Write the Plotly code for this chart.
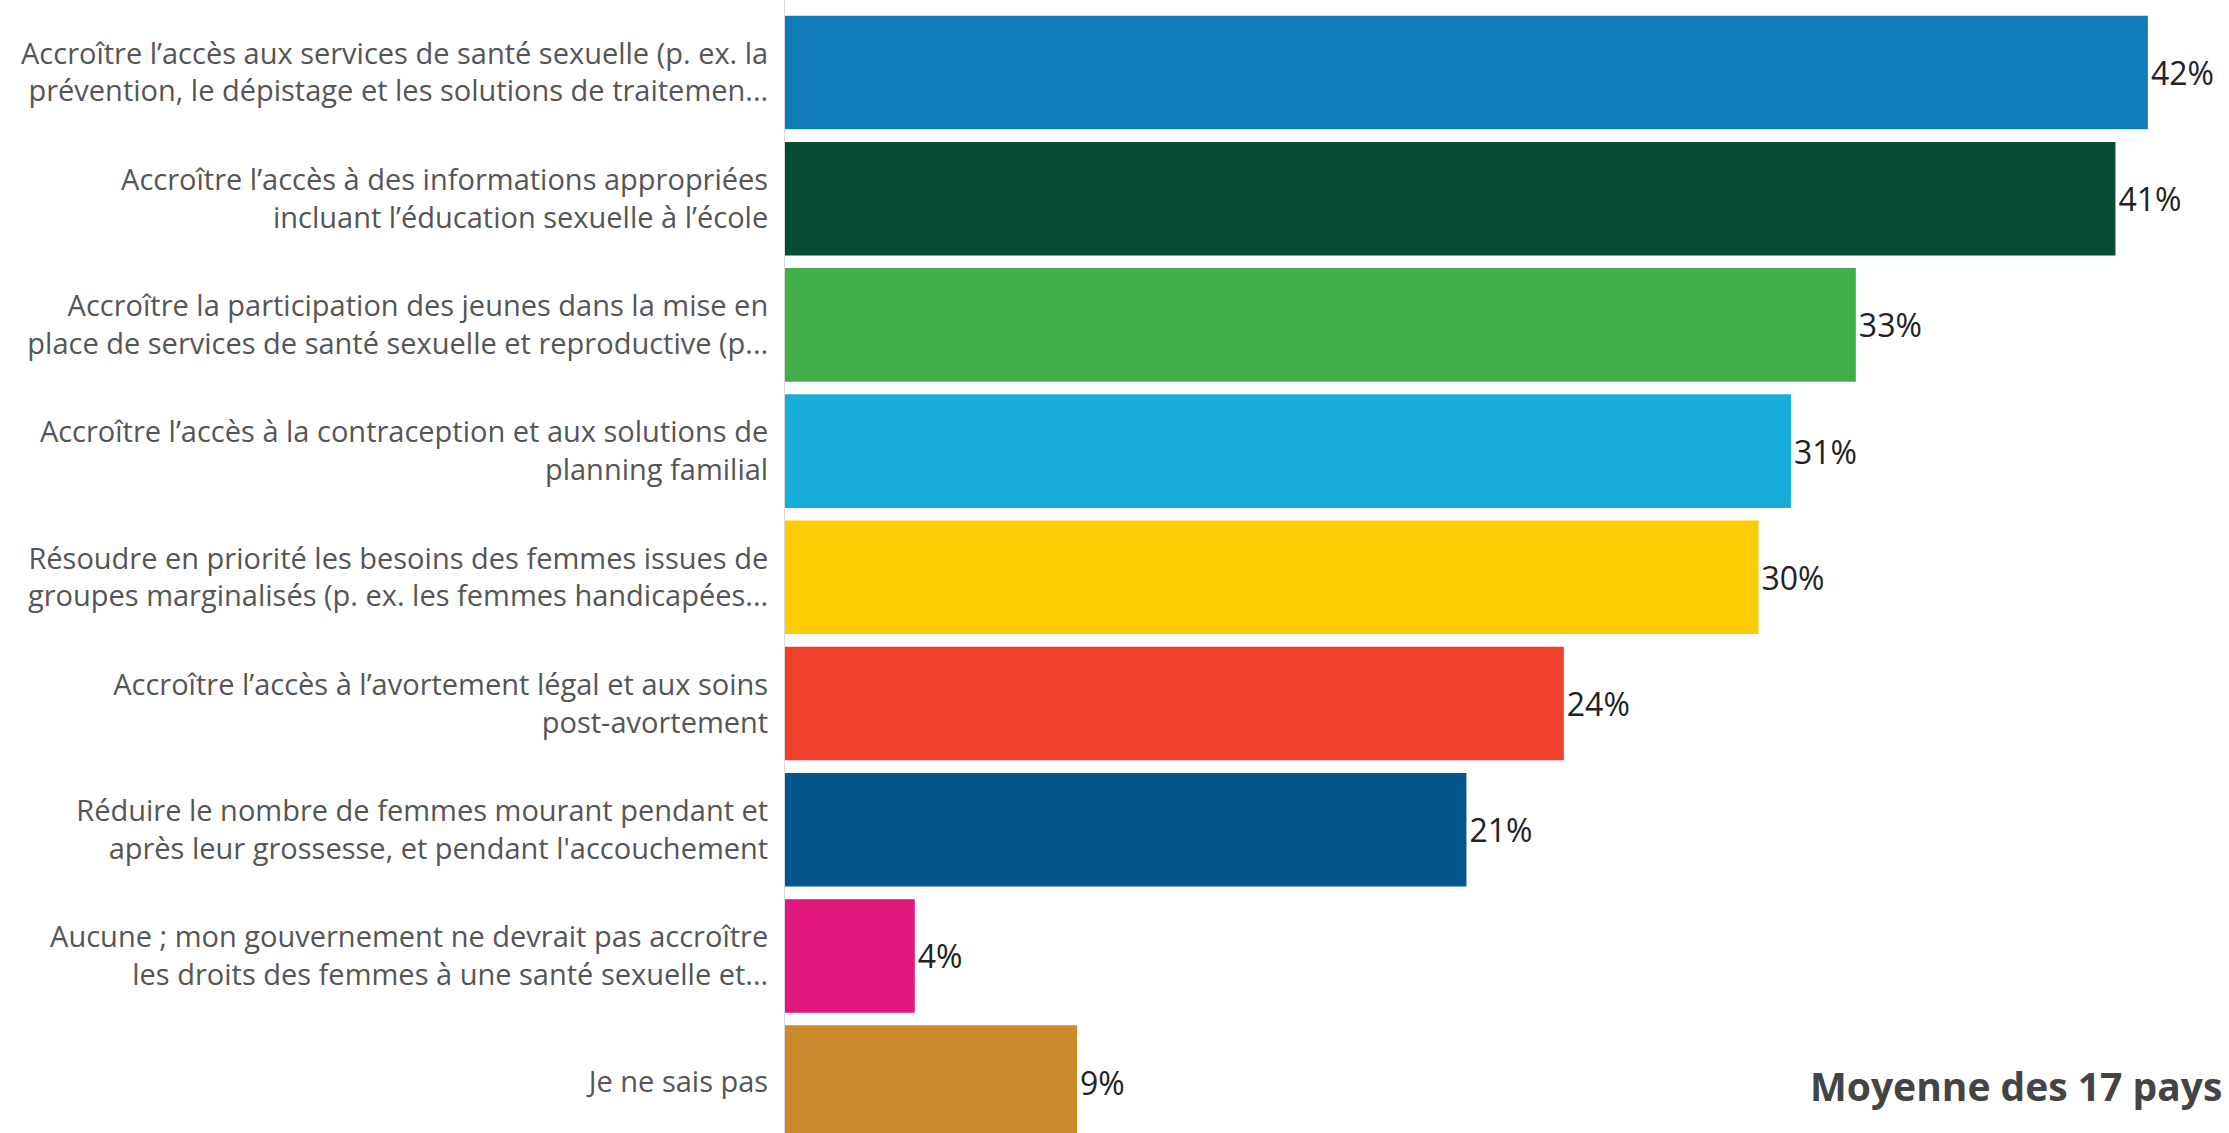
import plotly.graph_objects as go

categories = [
    "Accroître l’accès aux services de santé sexuelle (p. ex. la<br>prévention, le dépistage et les solutions de traitemen...",
    "Accroître l’accès à des informations appropriées<br>incluant l’éducation sexuelle à l’école",
    "Accroître la participation des jeunes dans la mise en<br>place de services de santé sexuelle et reproductive (p...",
    "Accroître l’accès à la contraception et aux solutions de<br>planning familial",
    "Résoudre en priorité les besoins des femmes issues de<br>groupes marginalisés (p. ex. les femmes handicapées...",
    "Accroître l’accès à l’avortement légal et aux soins<br>post-avortement",
    "Réduire le nombre de femmes mourant pendant et<br>après leur grossesse, et pendant l'accouchement",
    "Aucune ; mon gouvernement ne devrait pas accroître<br>les droits des femmes à une santé sexuelle et...",
    "Je ne sais pas",
]
values = [42, 41, 33, 31, 30, 24, 21, 4, 9]
colors = ["#0E7CBB", "#054C35", "#40AE49", "#18ADD9", "#FCCB00",
          "#EE402B", "#04568C", "#E0187E", "#CB8A2B"]
note_text = "Moyenne des 17 pays"

fig = go.Figure(
    go.Bar(
        x=values,
        y=categories,
        orientation="h",
        marker=dict(color=colors, line=dict(width=0)),
        text=[f"{v}%" for v in values],
        textposition="outside",
        textfont=dict(family="Open Sans", size=32, color="#222222"),
        cliponaxis=False,
        constraintext="none",
        hoverinfo="skip",
    )
)

fig.update_layout(
    width=2229,
    height=1133,
    margin=dict(l=785, r=0, t=0, b=0),
    paper_bgcolor="white",
    plot_bgcolor="white",
    bargap=0.1,
    showlegend=False,
    font=dict(family="Open Sans", color="#555555"),
    xaxis=dict(range=[0, 44.5], showgrid=False, zeroline=False,
               showticklabels=False, showline=False, fixedrange=True),
    yaxis=dict(range=[8.403, -0.5745], showgrid=False, zeroline=False,
               showline=True, linecolor="#D9D9D9", linewidth=1,
               ticks="", ticklabelstandoff=10,
               tickfont=dict(family="Open Sans", size=29, color="#555555"),
               fixedrange=True),
    annotations=[
        dict(text=f"<b>{note_text}</b>", xref="paper", yref="paper",
             x=1, y=1 - 1085 / 1133, xanchor="right", yanchor="middle",
             xshift=-5, showarrow=False,
             font=dict(family="Open Sans", size=39, color="#444444"))
    ],
)

fig.write_html("out.html", config={"displayModeBar": False},
               post_script="document.body.style.margin='0';document.body.style.overflow='hidden';")
